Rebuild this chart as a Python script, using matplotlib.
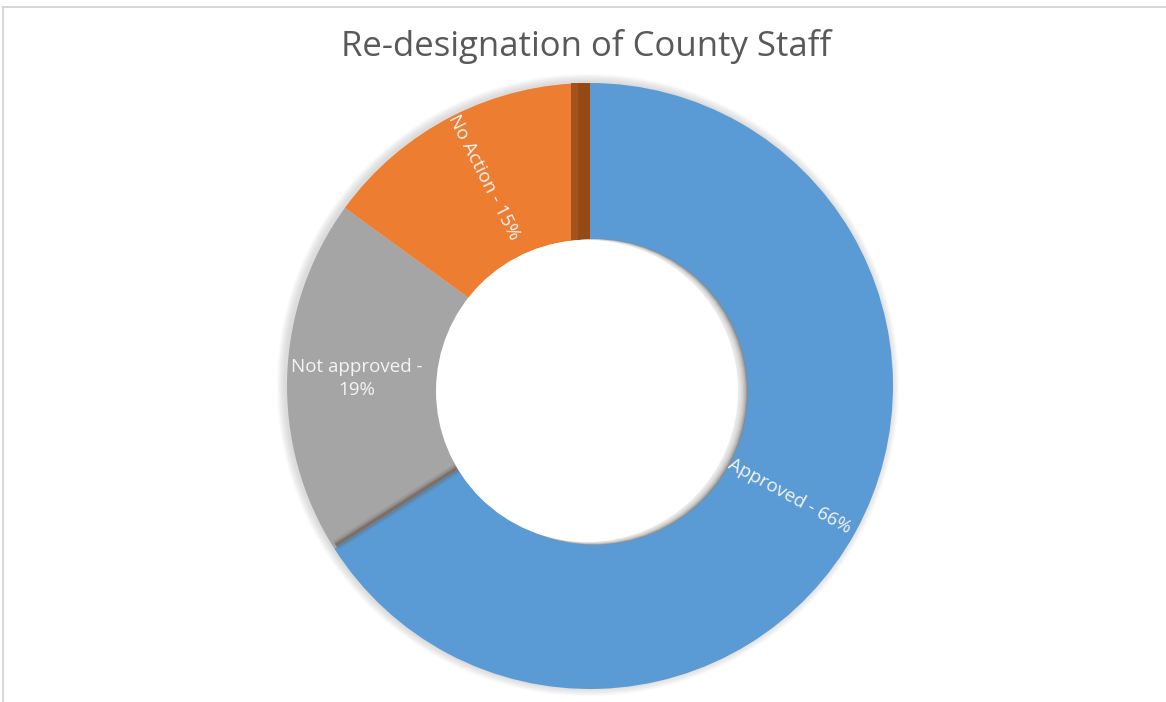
import numpy as np
import matplotlib
matplotlib.use("Agg")
import matplotlib.pyplot as plt
from matplotlib.patches import Circle, Rectangle

# Re-designation outcomes (percent of county staff)
categories = ["Approved", "Not approved", "No Action"]
shares = [66, 19, 15]
colors = ["#5B9BD5", "#A5A5A5", "#ED7D31"]
label_texts = ["Approved - 66%", "Not approved -\n19%", "No Action - 15%"]

plt.rcParams["font.family"] = ["Open Sans", "DejaVu Sans"]

W, H = 1166, 702
fig = plt.figure(figsize=(W / 100, H / 100), dpi=100)
ax = fig.add_axes([0, 0, 1, 1])

cx, cy, R = 590, H - 386, 303
hole_c, hole_r = (595, H - 392), 153

# soft shadow behind the ring
for k in range(8, 0, -1):
    ax.add_patch(Circle((cx - 2, cy + 1), R + k, color="#7f7f7f",
                        alpha=0.035, lw=0, zorder=0))

wedges, _ = ax.pie(shares, colors=colors, startangle=90, counterclock=False,
                   center=(cx, cy), radius=R,
                   wedgeprops=dict(linewidth=0, zorder=1))

# darker side face where the orange slice meets the blue one
y0 = hole_c[1] + hole_r - 10
ax.add_patch(Rectangle((cx - 19, y0), 19, cy + R - y0,
                       color="#A4531C", lw=0, zorder=2))
ax.add_patch(Rectangle((cx - 12, y0), 12, cy + R - y0,
                       color="#8A4312", alpha=0.6, lw=0, zorder=2))

# shadow along the grey / blue seam
seam = np.deg2rad(90 - shares[0] / sum(shares) * 360)
for lw, a in [(8, 0.10), (5, 0.2), (2.5, 0.4)]:
    r0, r1 = hole_r - 5, R - 2
    ax.plot([cx + r0 * np.cos(seam), cx + r1 * np.cos(seam)],
            [cy + r0 * np.sin(seam) + 2, cy + r1 * np.sin(seam) + 2],
            color="#5a4a40", lw=lw, alpha=a, solid_capstyle="butt", zorder=2)

# hole with a soft inner shadow on its right side
ax.add_patch(Circle(hole_c, hole_r, color="#8a8a8a", lw=0, zorder=3))
for k in range(1, 9):
    ax.add_patch(Circle((hole_c[0] - k * 0.9, hole_c[1] + k * 0.15),
                        hole_r - k * 0.25, color="white", alpha=0.22,
                        lw=0, zorder=3))
ax.add_patch(Circle((hole_c[0] - 8, hole_c[1] + 1), hole_r - 2,
                    color="white", lw=0, zorder=4))

# slice labels placed along each slice's mid angle
total = sum(shares)
start = 90.0
label_r = [228, 233, 234]
for i, txt in enumerate(label_texts):
    sweep = shares[i] / total * 360
    mid = start - sweep / 2
    start -= sweep
    th = np.deg2rad(mid)
    x = cx + label_r[i] * np.cos(th)
    y = cy + label_r[i] * np.sin(th)
    if i == 1:
        rot = 0
    else:
        rot = (mid + 180) % 360 - 180
        if rot > 90:
            rot -= 180
        elif rot < -90:
            rot += 180
    ax.text(x, y, txt, rotation=rot, rotation_mode="anchor", ha="center",
            va="center", fontsize=13.5, color="#F4F4F4", zorder=5,
            linespacing=1.35)

ax.text(586, H - 46, "Re-designation of County Staff", ha="center",
        va="center", fontsize=25, color="#595959", zorder=5)

# light frame along the top and left edges
ax.plot([3, W], [H - 7, H - 7], color="#d0d0d0", lw=1.2, zorder=6)
ax.plot([3, 3], [H - 7, 0], color="#d0d0d0", lw=1.2, zorder=6)

ax.set_xlim(0, W)
ax.set_ylim(0, H)
ax.set_aspect("equal")
ax.axis("off")

fig.savefig("out.png", dpi=100, facecolor="white")
